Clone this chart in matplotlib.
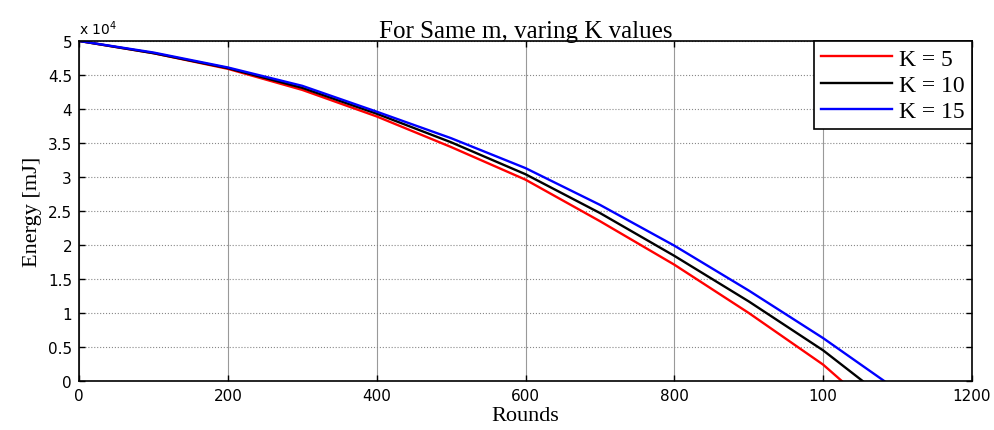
import numpy as np
import matplotlib
matplotlib.use("Agg")
import matplotlib.pyplot as plt

# rounds / residual energy [mJ]
rounds_k5 = [0, 100, 200, 300, 400, 500, 600, 700, 800, 900, 1000, 1025]
energy_k5 = [50000, 48200, 45900, 42800, 38900, 34400, 29600, 23500, 17100, 10000, 2400, 0]

rounds_k10 = [0, 100, 200, 300, 400, 500, 600, 700, 800, 900, 1000, 1053]
energy_k10 = [50000, 48200, 46000, 43100, 39300, 35100, 30400, 24700, 18400, 11700, 4500, 0]

rounds_k15 = [0, 100, 200, 300, 400, 500, 600, 700, 800, 900, 1000, 1082]
energy_k15 = [50000, 48300, 46100, 43400, 39600, 35700, 31300, 25900, 19900, 13300, 6300, 0]

labels = ["K = 5", "K = 10", "K = 15"]
colors = ["red", "black", "blue"]

xticks = [0, 200, 400, 600, 800, 1000, 1200]
xticklabels = ["0", "200", "400", "600", "800", "100", "1200"]
yticks = np.arange(0, 5.01, 0.5)
yticklabels = ["0", "0.5", "1", "1.5", "2", "2.5", "3", "3.5", "4", "4.5", "5"]
scale = 1e4

serif = ["Liberation Serif", "DejaVu Serif"]
sans = ["DejaVu Sans"]

fig = plt.figure(figsize=(9.95, 4.31), dpi=100)
ax = fig.add_axes([0.0794, 0.1137, 0.8975, 0.789])

series = [(rounds_k5, energy_k5), (rounds_k10, energy_k10), (rounds_k15, energy_k15)]
for (x, y), lab, c in zip(series, labels, colors):
    ax.plot(x, np.array(y) / scale, color=c, lw=1.7, label=lab)

ax.set_xlim(0, 1200)
ax.set_ylim(0, 5)
ax.set_xticks(xticks)
ax.set_xticklabels(xticklabels, family=sans, fontsize=11)
ax.set_yticks(yticks)
ax.set_yticklabels(yticklabels, family=sans, fontsize=11)
ax.tick_params(direction="in", length=4, width=1, top=True, right=True, pad=5)

ax.xaxis.grid(True, color="#999999", lw=0.8, ls="-")
ax.yaxis.grid(True, color="#888888", lw=0.8, ls=":")
ax.set_axisbelow(True)
for s in ax.spines.values():
    s.set_linewidth(1.2)

ax.text(0.0, 1.012, r"x 10$^{4}$", transform=ax.transAxes, fontsize=10,
        family=sans, ha="left", va="bottom")

ax.set_title("For Same m, varing K values", family=serif, fontsize=18, pad=3)
ax.set_xlabel("Rounds", family=serif, fontsize=16, labelpad=2)
ax.set_ylabel("Energy [mJ]", family=serif, fontsize=16, labelpad=4)

leg = ax.legend(loc="upper right", borderaxespad=0, fancybox=False,
                prop={"family": serif, "size": 17}, handlelength=3.0,
                handletextpad=0.3, labelspacing=0.2, borderpad=0.3,
                framealpha=1)
leg.get_frame().set_edgecolor("black")
leg.get_frame().set_linewidth(1.2)

fig.savefig("out.png", dpi=100)
